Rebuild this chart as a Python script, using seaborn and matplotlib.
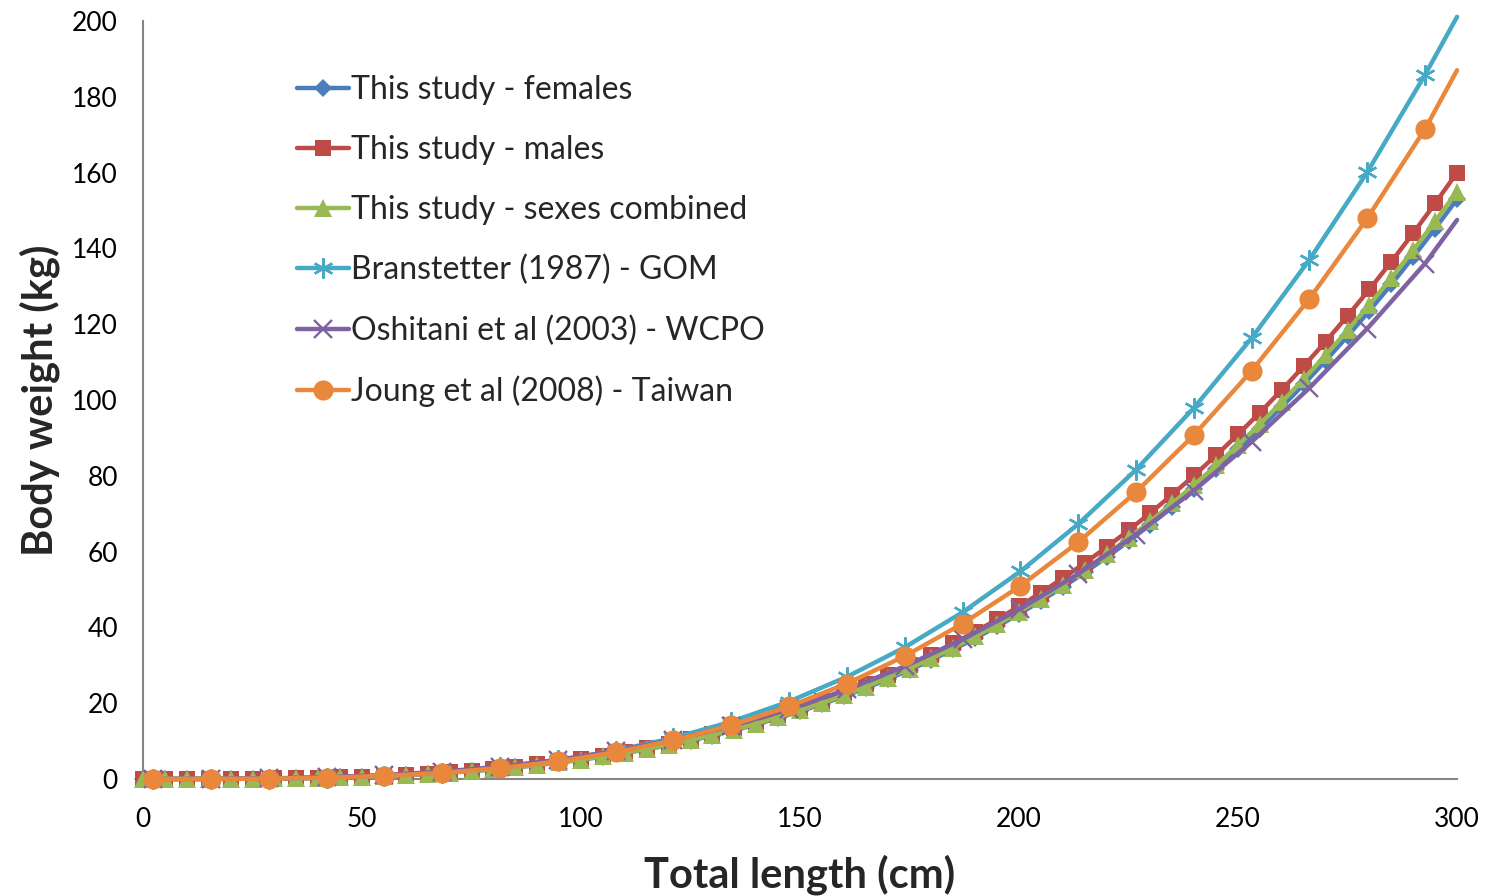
import numpy as np
import pandas as pd
import matplotlib
matplotlib.use("Agg")
import matplotlib.pyplot as plt
import seaborn as sns

# ----------------------------------------------------------------------------
# data (total length in cm, body weight in kg)
# ----------------------------------------------------------------------------
length_5cm = [0, 5, 10, 15, 20, 25, 30, 35, 40, 45, 50, 55, 60, 65, 70, 75, 80, 85,
              90, 95, 100, 105, 110, 115, 120, 125, 130, 135, 140, 145, 150, 155,
              160, 165, 170, 175, 180, 185, 190, 195, 200, 205, 210, 215, 220, 225,
              230, 235, 240, 245, 250, 255, 260, 265, 270, 275, 280, 285, 290, 295, 300]

females = [0, 0, 0, 0.01, 0.03, 0.07, 0.12, 0.20, 0.30, 0.43, 0.59, 0.79, 1.04, 1.34,
           1.68, 2.08, 2.54, 3.07, 3.66, 4.33, 5.08, 5.91, 6.82, 7.83, 8.93, 10.14,
           11.45, 12.87, 14.41, 16.07, 17.84, 19.76, 21.79, 23.97, 26.31, 28.77, 31.40,
           34.19, 37.13, 40.25, 43.53, 47.00, 50.64, 54.48, 58.49, 62.72, 67.14, 71.77,
           76.61, 81.66, 86.94, 92.45, 98.19, 104.15, 110.37, 116.83, 123.55, 130.51,
           137.74, 145.23, 153.0]

males = [0, 0, 0, 0.01, 0.04, 0.07, 0.13, 0.21, 0.31, 0.45, 0.62, 0.83, 1.09, 1.40,
         1.76, 2.18, 2.66, 3.21, 3.83, 4.53, 5.31, 6.18, 7.13, 8.19, 9.34, 10.60,
         11.97, 13.46, 15.07, 16.80, 18.66, 20.66, 22.79, 25.07, 27.51, 30.09, 32.84,
         35.75, 38.83, 42.09, 45.52, 49.15, 52.96, 56.97, 61.17, 65.59, 70.21, 75.05,
         80.12, 85.40, 90.92, 96.68, 102.68, 108.92, 115.42, 122.18, 129.20, 136.48,
         144.04, 151.88, 160.0]

combined = [0, 0, 0, 0.01, 0.04, 0.07, 0.13, 0.20, 0.30, 0.44, 0.60, 0.80, 1.06, 1.36,
            1.71, 2.11, 2.58, 3.11, 3.71, 4.39, 5.14, 5.99, 6.91, 7.93, 9.05, 10.27,
            11.60, 13.04, 14.60, 16.28, 18.08, 20.01, 22.08, 24.29, 26.65, 29.15, 31.81,
            34.63, 37.62, 40.77, 44.10, 47.61, 51.30, 55.19, 59.26, 63.54, 68.02, 72.70,
            77.62, 82.73, 88.08, 93.66, 99.47, 105.52, 111.81, 118.36, 125.16, 132.21,
            139.54, 147.14, 155.0]

# other studies: markers every ~13 cm, the line runs on to 300 cm (no marker there)
length_13cm = [2.3, 15.5, 28.7, 41.9, 55.1, 68.3, 81.5, 94.7, 107.9, 121.1, 134.3,
               147.5, 160.7, 173.9, 187.1, 200.3, 213.5, 226.7, 239.9, 253.1, 266.3,
               279.5, 292.7, 300]

branstetter = [0, 0.01, 0.11, 0.36, 0.86, 1.71, 3.03, 4.91, 7.47, 10.83, 15.11, 20.44,
               26.95, 34.74, 43.98, 54.76, 67.25, 81.58, 97.89, 116.33, 137.01, 160.11,
               185.8, 201.1]

oshitani = [0, 0.03, 0.15, 0.47, 1.04, 1.94, 3.25, 5.04, 7.38, 10.34, 13.98, 18.38,
            23.62, 29.73, 36.82, 44.92, 54.11, 64.47, 76.06, 88.95, 103.18, 118.84,
            136.0, 147.5]

joung = [0, 0.01, 0.10, 0.34, 0.82, 1.63, 2.87, 4.63, 7.04, 10.18, 14.17, 19.13,
         25.18, 32.41, 40.96, 50.93, 62.47, 75.70, 90.72, 107.69, 126.71, 147.94,
         171.5, 187.0]

labels = ["This study - females", "This study - males", "This study - sexes combined",
          "Branstetter (1987) - GOM", "Oshitani et al (2003) - WCPO",
          "Joung et al (2008) - Taiwan"]

# ----------------------------------------------------------------------------
# styling
# ----------------------------------------------------------------------------
STYLES = [
    dict(color="#4A7EBB", marker="D", ms=9.5, mew=0),
    dict(color="#BE4B48", marker="s", ms=12, mew=0),
    dict(color="#98B954", marker="^", ms=13.5, mew=0),
    dict(color="#46AAC5", marker=(6, 2, 0), ms=14.5, mew=1.7),
    dict(color="#7E62A1", marker="x", ms=12.5, mew=1.7),
    dict(color="#E9883C", marker="o", ms=14.5, mew=0),
]

sns.set_style("white")
plt.rcParams["font.family"] = ["Lato", "DejaVu Sans"]

fig, ax = plt.subplots(figsize=(14.88, 8.96), dpi=100)
fig.subplots_adjust(left=0.0961, right=0.9792, top=0.9766, bottom=0.1306)

series = [(length_5cm, females), (length_5cm, males), (length_5cm, combined),
          (length_13cm, branstetter), (length_13cm, oshitani), (length_13cm, joung)]

for i, ((x, y), lab, st) in enumerate(zip(series, labels, STYLES)):
    df = pd.DataFrame({"x": x, "y": y})
    every = None if len(x) == len(length_5cm) else list(range(len(x) - 1))
    sns.lineplot(data=df, x="x", y="y", ax=ax, label=lab, color=st["color"],
                 linewidth=3.2, marker=st["marker"], markersize=st["ms"],
                 markeredgewidth=st["mew"], markeredgecolor=st["color"],
                 markerfacecolor=st["color"], markevery=every, clip_on=False,
                 zorder=3 + i, legend=False)

ax.set_xlim(0, 300)
ax.set_ylim(0, 200)
ax.set_xticks(np.arange(0, 301, 50))
ax.set_yticks(np.arange(0, 201, 20))

for side in ["top", "right"]:
    ax.spines[side].set_visible(False)
for side in ["left", "bottom"]:
    ax.spines[side].set_color("#868686")
    ax.spines[side].set_linewidth(1.5)

ax.tick_params(axis="both", direction="out", length=6, width=1.5, color="#868686",
               labelsize=19, labelcolor="black")
ax.tick_params(axis="x", pad=14)
ax.tick_params(axis="y", pad=12)

ax.set_xlabel("Total length (cm)", fontsize=30, fontweight="bold", labelpad=16)
ax.set_ylabel("Body weight (kg)", fontsize=30, fontweight="bold", labelpad=9)

ax.legend(loc="upper left", bbox_to_anchor=(0.117, 0.929), frameon=False,
          fontsize=23, handlelength=1.65, handletextpad=0.05, labelspacing=0.94,
          borderpad=0, borderaxespad=0)

fig.savefig("out.png", dpi=100)
